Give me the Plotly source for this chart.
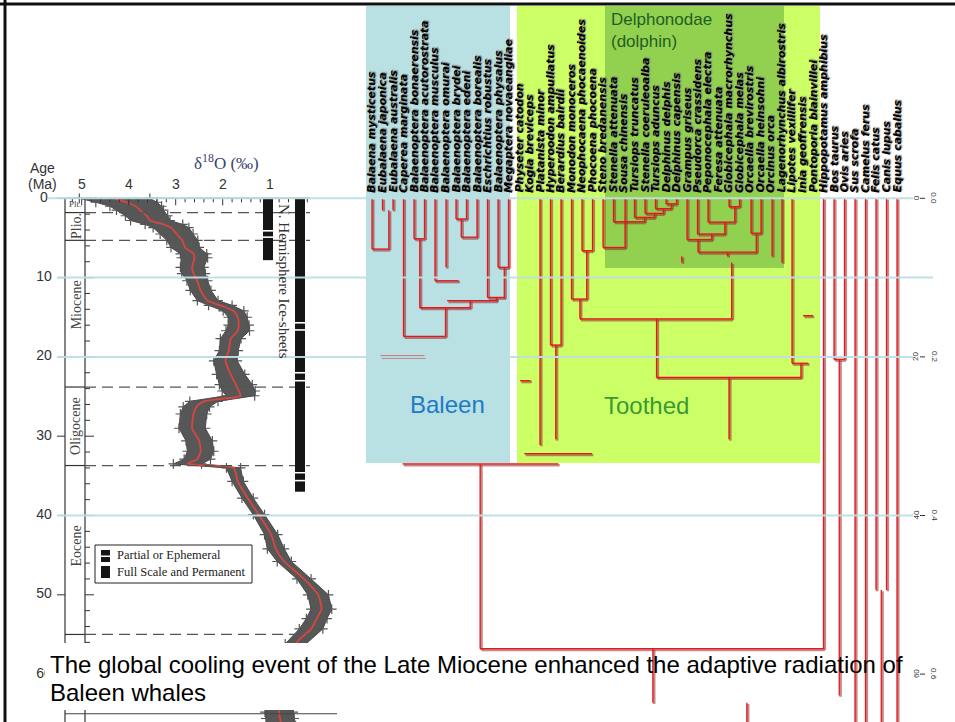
import numpy as np
import plotly.graph_objects as go

W, H = 955, 722

# ---------------- data ----------------
species = [
    "Balaena mysticetus", "Eubalaena japonica", "Eubalaena australis", "Caperea marginata",
    "Balaenoptera bonaerensis", "Balaenoptera acutorostrata", "Balaenoptera musculus",
    "Balaenoptera omurai", "Balaenoptera brydei", "Balaenoptera edeni", "Balaenoptera borealis",
    "Eschrichtius robustus", "Balaenoptera physalus", "Megaptera novaeangliae",
    "Physeter catodon", "Kogia breviceps", "Platanista minor", "Hyperoodon ampullatus",
    "Berardius bairdii", "Monodon monoceros", "Neophocaena phocaenoides", "Phocoena phocoena",
    "Steno bredanensis", "Stenella attenuata", "Sousa chinensis", "Tursiops truncatus",
    "Stenella coeruleoalba", "Tursiops aduncus", "Delphinus delphis", "Delphinus capensis",
    "Grampus griseus", "Pseudorca crassidens", "Peponocephala electra", "Feresa attenuata",
    "Globicephala macrorhynchus", "Globicephala melas", "Orcaella brevirostris",
    "Orcaella heinsohni", "Orcinus orca", "Lagenorhynchus albirostris", "Lipotes vexillifer",
    "Inia geoffrensis", "Pontoporia blainvillei", "Hippopotamus amphibius", "Bos taurus",
    "Ovis aries", "Sus scrofa", "Camelus ferus", "Felis catus", "Canis lupus", "Equus caballus",
]

# benthic d18O stack: age (Ma), smoothed value (per mil), half-width of the scatter
d18o_age = [0.0, 0.5, 1.0, 1.5, 2.2, 2.8, 3.3, 3.7, 4.5, 5.3, 6.2, 7.0, 7.5, 8.7, 9.5,
            10.4, 11.6, 12.9, 13.5, 14.2, 15.0, 16.0, 16.7, 17.7, 19.2, 20.5, 22.2, 23.5,
            24.3, 24.9, 25.6, 26.3, 27.2, 29.0, 30.6, 31.9, 32.9, 33.5, 34.0, 35.7, 37.8,
            39.9, 42.4, 44.2, 45.8, 48.0, 50.0, 51.8, 53.0, 54.3, 56.2, 64.8, 65.6, 66.5]
d18o_val = [4.30, 4.05, 3.85, 3.76, 3.62, 3.54, 3.25, 3.10, 2.98, 2.86, 2.80, 2.62, 2.60,
            2.65, 2.62, 2.54, 2.47, 2.32, 2.05, 1.77, 1.68, 1.66, 1.68, 1.83, 1.87, 1.94,
            1.83, 1.72, 1.66, 1.62, 2.40, 2.56, 2.62, 2.65, 2.50, 2.47, 2.54, 2.75, 1.77,
            1.68, 1.47, 1.23, 0.97, 0.87, 0.69, 0.27, -0.03, -0.10, 0.00, 0.12, 0.45,
            0.80, 0.78, 0.75]
d18o_half = [0.75, 0.65, 0.55, 0.50, 0.45, 0.42, 0.40, 0.38, 0.35, 0.33, 0.30, 0.28, 0.28,
             0.25, 0.25, 0.22, 0.22, 0.22, 0.25, 0.22, 0.20, 0.22, 0.25, 0.22, 0.20, 0.25,
             0.30, 0.35, 0.35, 0.30, 0.30, 0.28, 0.28, 0.28, 0.28, 0.28, 0.28, 0.30, 0.15,
             0.12, 0.12, 0.12, 0.14, 0.18, 0.15, 0.15, 0.22, 0.22, 0.22, 0.25, 0.22,
             0.30, 0.30, 0.30]

epoch_bounds = [1.8, 5.3, 23.8, 33.7, 55.0]
epoch_names = ["Plio.", "Miocene", "Oligocene", "Eocene"]
epoch_label_age = [3.5, 13.5, 28.7, 43.9]

# ice-sheet extent (Ma), split where the bars show gaps
ice_partial = [(0.0, 4.0), (4.2, 4.8), (5.0, 7.8)]
ice_full = [(0.0, 15.6), (15.8, 16.5), (16.7, 21.9), (22.1, 22.9),
            (23.1, 34.5), (34.7, 35.5), (35.7, 37.0)]

# tree branches, in tip-index units and Ma
# vertical: (tip position, age top, age bottom)
tree_v = [
    (0, 0, 6.4), (1, 0, 1.5), (2, 0, 1.5), (1.6, 1.5, 6.4),
    (3, 0, 17.4), (7.0, 13.8, 17.4),
    (4, 0, 5.1), (5, 0, 5.1), (4.55, 5.1, 13.8), (9.35, 12.9, 13.8),
    (6, 0, 10.4), (7.05, 0, 8.7),
    (8, 0, 2.6), (9, 0, 2.6), (8.5, 2.6, 4.9), (10, 0, 4.9),
    (11, 0, 12.5), (12, 0, 8.7), (13, 0, 8.7), (12.6, 8.7, 12.5), (11.85, 12.5, 12.9),
    (16, 0, 31.1), (17, 0, 18.5), (18, 0, 18.5), (17.5, 18.5, 30.4),
    (19, 0, 12.7), (20, 0, 6.6), (21, 0, 6.6), (20.45, 6.6, 12.7), (19.8, 12.7, 15.2),
    (34.25, 8.1, 15.2), (27.1, 15.2, 22.6), (40.85, 20.8, 22.6), (40, 0, 20.8),
    (34.0, 22.6, 30.4),
    (28, 0, 0.7), (29, 0, 0.7), (28.5, 0.7, 1.3), (27, 0, 1.3), (27.75, 1.3, 1.9),
    (26, 0, 1.9), (26.9, 1.9, 2.4), (25, 0, 2.4), (25.95, 2.4, 2.95), (23, 0, 2.95),
    (24.1, 0, 6.2), (22, 0, 6.2),
    (34, 0, 1.05), (35, 0, 1.05), (34.55, 1.05, 3.0), (32, 0, 3.0), (33.6, 3.0, 4.5),
    (31, 0, 4.5), (32.35, 4.5, 5.2), (30, 0, 5.2), (31.05, 5.2, 6.8), (36.1, 0, 4.4),
    (37.05, 0, 4.4), (36.6, 4.4, 6.8), (33.85, 6.8, 7.3), (29.5, 7.3, 8.1),
    (38.1, 0, 7.3), (39.05, 0, 8.1),
    (10.3, 33.5, 56.8), (26.75, 56.8, 63.6), (35.7, 63.6, 70), (43, 0, 56.8),
    (44, 0, 20.3), (45, 0, 20.3), (44.5, 20.3, 62.7), (46, 0, 70), (47, 0, 70),
    (48, 0, 49.4), (49, 0, 49.4), (48.5, 49.4, 70), (50, 0, 70),
]
# horizontal: (age, tip from, tip to)
tree_h = [
    (6.4, 0, 1.6), (17.4, 3, 7.0), (5.1, 4, 5), (13.8, 4.55, 9.35), (12.9, 7.15, 11.9),
    (10.4, 6, 8.25), (2.6, 8, 9), (4.9, 8.5, 10), (12.5, 11, 12.65), (8.7, 12, 13),
    (19.9, 0.8, 5.0),
    (18.5, 17, 18), (32.2, 14.5, 20.95), (23.0, 14.1, 15.1), (6.6, 20, 21),
    (12.7, 19, 20.45), (15.2, 19.8, 34.25), (22.6, 27.1, 40.85), (20.8, 40, 41.55),
    (14.8, 41.05, 42.0),
    (0.7, 28, 29), (1.3, 27, 28.5), (1.9, 26, 27.75), (2.4, 25, 26.9), (2.95, 23, 25.95),
    (6.2, 22, 24.1),
    (1.05, 34, 35), (3.0, 32, 34.55), (4.5, 31, 33.6), (5.2, 30, 32.35),
    (4.4, 36.1, 37.05), (6.8, 31.05, 36.6),
    (33.5, 2.9, 17.75), (56.8, 10.3, 43),
    (20.3, 44, 45),
]

age_grid = [0, 10, 20, 40]
age_ticks_left = [0, 10, 20, 30, 40, 50, 60]
age_ticks_right = [0, 20, 40, 60]
right_tick_text = ["0.0", "0.2", "0.4", "0.6"]
d18o_ticks = [5, 4, 3, 2, 1]

# ---------------- scales (pixel geometry of the layout) ----------------
AGE_Y0, AGE_K = 198.3, 7.93          # px at age 0, px per Ma
D_X5, D_K = 81.7, 47.0               # px at d18O = 5, px per permil (reversed)
TIP_X0, TIP_K = 372.0, 10.5          # px of first tip, px per tip

age_range = [(H - AGE_Y0) / AGE_K, -AGE_Y0 / AGE_K]
d_range = [5 + D_X5 / D_K, 5 - (W - D_X5) / D_K]
tip_range = [-TIP_X0 / TIP_K, (W - TIP_X0) / TIP_K]


def fx(px):
    return px / W


def fy(py):
    return 1 - py / H


def age_of(py):
    return (py - AGE_Y0) / AGE_K


def d_of(px):
    return 5 - (px - D_X5) / D_K


SERIF = "Liberation Serif, Times New Roman, serif"
SANS = "Liberation Sans, Arial, sans-serif"

fig = go.Figure()
shapes = []
ann = []


def text(t, x, y, xref="paper", yref="paper", xanchor="center", yanchor="middle", **kw):
    d = dict(text=t, x=x, y=y, xref=xref, yref=yref, xanchor=xanchor, yanchor=yanchor,
             showarrow=False)
    d.update(kw)
    ann.append(d)


# ---------------- background panels ----------------
shapes += [
    dict(type="rect", xref="paper", yref="paper", x0=fx(366), x1=fx(510), y0=fy(6), y1=fy(463),
         fillcolor="#B9E0E3", line_width=0, layer="below"),
    dict(type="rect", xref="paper", yref="paper", x0=fx(517), x1=fx(820), y0=fy(6), y1=fy(463),
         fillcolor="#CCFF66", line_width=0, layer="below"),
    dict(type="rect", xref="paper", yref="paper", x0=fx(605), x1=fx(784), y0=fy(6), y1=fy(268),
         fillcolor="#92D050", line_width=0, layer="below"),
]

# ---------------- d18O panel ----------------
age = np.array(d18o_age)
val = np.array(d18o_val)
half = np.array(d18o_half)
band_x = np.concatenate([val - half, (val + half)[::-1]])
band_y = np.concatenate([age, age[::-1]])
fig.add_trace(go.Scatter(x=band_x, y=band_y, xaxis="x", yaxis="y", mode="lines",
                         fill="toself", fillcolor="#575757", line=dict(color="#4a4a4a", width=1),
                         hoverinfo="skip", showlegend=False))
for sgn in (-1, 1):
    fig.add_trace(go.Scatter(x=val + sgn * half, y=age, xaxis="x", yaxis="y", mode="markers",
                             marker=dict(symbol="cross-thin", size=7,
                                         line=dict(color="#555555", width=1.2)),
                             hoverinfo="skip", showlegend=False))
fig.add_trace(go.Scatter(x=val, y=age, xaxis="x", yaxis="y", mode="lines",
                         line=dict(color="#D9463E", width=1.8, shape="spline", smoothing=0.6),
                         hoverinfo="skip", showlegend=False))

# age labels of the d18O panel (drawn as a trace so the caption box can cover them)
fig.add_trace(go.Scatter(x=[d_of(44)] * len(age_ticks_left), y=age_ticks_left,
                         xaxis="x", yaxis="y", mode="text",
                         text=[str(a) for a in age_ticks_left], textposition="middle center",
                         textfont=dict(family=SANS, size=14, color="#333333"),
                         hoverinfo="skip", showlegend=False))

# epoch column and axis frame of the d18O panel
for xp in (65, 85):
    shapes.append(dict(type="line", xref="paper", yref="y", x0=fx(xp), x1=fx(xp),
                       y0=0, y1=age_range[0], line=dict(color="#333333", width=1.2)))
shapes.append(dict(type="line", xref="paper", yref="y", x0=fx(65), x1=fx(310), y0=0, y1=0,
                   line=dict(color="#333333", width=1.2)))
for b in epoch_bounds:
    shapes.append(dict(type="line", xref="paper", yref="y", x0=fx(65), x1=fx(85), y0=b, y1=b,
                       line=dict(color="#333333", width=1.2)))
    shapes.append(dict(type="line", xref="paper", yref="y", x0=fx(85), x1=fx(310), y0=b, y1=b,
                       line=dict(color="#555555", width=1.2, dash="11px,6px")))
shapes.append(dict(type="line", xref="paper", yref="y", x0=fx(65), x1=fx(337), y0=65, y1=65,
                   line=dict(color="#444444", width=1.2)))
for a in np.arange(0, 58, 2):
    major = a % 10 == 0
    shapes.append(dict(type="line", xref="paper", yref="y", x0=fx(85),
                       x1=fx(85 + (9 if major else 5)), y0=a, y1=a,
                       line=dict(color="#333333", width=1)))
    if major:
        shapes.append(dict(type="line", xref="paper", yref="y", x0=fx(57), x1=fx(65),
                           y0=a, y1=a, line=dict(color="#333333", width=1)))
for v in np.arange(5.2, 0.1, -0.2):
    major = abs(v - round(v)) < 1e-6
    shapes.append(dict(type="line", xref="x", yref="y", x0=v, x1=v, y0=0,
                       y1=age_of(AGE_Y0 + (7 if major else 4)),
                       line=dict(color="#333333", width=1)))

# ice-sheet bars
for a0, a1 in ice_partial:
    shapes.append(dict(type="rect", xref="paper", yref="y", x0=fx(263), x1=fx(273),
                       y0=a0, y1=a1, fillcolor="#151515", line_width=0))
for a0, a1 in ice_full:
    shapes.append(dict(type="rect", xref="paper", yref="y", x0=fx(295), x1=fx(305),
                       y0=a0, y1=a1, fillcolor="#151515", line_width=0))

# legend box
shapes += [
    dict(type="rect", xref="paper", yref="paper", x0=fx(95), x1=fx(252), y0=fy(545), y1=fy(583),
         fillcolor="white", line=dict(color="#222222", width=1)),
    dict(type="rect", xref="paper", yref="paper", x0=fx(101), x1=fx(110), y0=fy(550), y1=fy(555.5),
         fillcolor="#151515", line_width=0),
    dict(type="rect", xref="paper", yref="paper", x0=fx(101), x1=fx(110), y0=fy(557), y1=fy(562),
         fillcolor="#151515", line_width=0),
    dict(type="rect", xref="paper", yref="paper", x0=fx(101), x1=fx(110), y0=fy(566), y1=fy(578),
         fillcolor="#151515", line_width=0),
]
text("Partial or Ephemeral", fx(115), fy(555), xanchor="left",
     font=dict(family=SERIF, size=12.5, color="#222222"))
text("Full Scale and Permanent", fx(115), fy(572), xanchor="left",
     font=dict(family=SERIF, size=12.5, color="#222222"))

# d18O panel texts
text("δ<sup>18</sup>O (‰)", fx(226), fy(162), font=dict(family=SERIF, size=17, color="#3a3f6e"))
text("Age", fx(42), fy(168), font=dict(family=SANS, size=14, color="#333333"))
text("(Ma)", fx(42), fy(184), font=dict(family=SANS, size=14, color="#333333"))
text("N. Hemisphere Ice-sheets", fx(284), fy(281), textangle=90,
     font=dict(family=SERIF, size=15, color="#333333"))
text("Plt.", fx(75), 0.75, yref="y", font=dict(family=SERIF, size=9, color="#444444"))
for v in d18o_ticks:
    text(str(v), v, fy(184), xref="x", font=dict(family=SANS, size=14, color="#333333"))
for name, a in zip(epoch_names, epoch_label_age):
    text(name, fx(76), a, yref="y", textangle=-90,
         font=dict(family=SERIF, size=14, color="#444444"))

# ---------------- tree ----------------
def segments(dx=0.0, dy=0.0):
    xs, ys = [], []
    for t, a0, a1 in tree_v:
        xs += [t + dx, t + dx, None]
        ys += [a0 + dy, a1 + dy, None]
    for a, t0, t1 in tree_h:
        xs += [t0 + dx, t1 + dx, None]
        ys += [a + dy, a + dy, None]
    return xs, ys


sx, sy = segments(1.3 / TIP_K, 1.3 / AGE_K)
fig.add_trace(go.Scatter(x=sx, y=sy, xaxis="x2", yaxis="y", mode="lines",
                         line=dict(color="rgba(150,40,40,0.55)", width=2.6),
                         hoverinfo="skip", showlegend=False))
rx, ry = segments()
fig.add_trace(go.Scatter(x=rx, y=ry, xaxis="x2", yaxis="y", mode="lines",
                         line=dict(color="#E8161C", width=1.3),
                         hoverinfo="skip", showlegend=False))

for i, name in enumerate(species):
    text(name, i, fy(195), xref="x2", yanchor="bottom", textangle=-90,
         font=dict(family="DejaVu Sans", size=11, color="black",
                   weight="bold", style="italic", shadow="1px 1px 1px #7a7a7a"))

text("Delphonodae<br>(dolphin)", fx(609), fy(8), xanchor="left", yanchor="top", align="left",
     font=dict(family=SANS, size=17, color="#1F5F22"))
text("Baleen", fx(447), fy(404), font=dict(family=SANS, size=24, color="#1B7BC6"))
text("Toothed", fx(646), fy(405), font=dict(family=SANS, size=24, color="#3A9A32"))

# right-hand age scale
for a, lab in zip(age_ticks_right, right_tick_text):
    text(str(a), fx(916), a, yref="y", textangle=-90,
         font=dict(family=SANS, size=8, color="#333333"))
    text(lab, fx(934), a, yref="y", textangle=90,
         font=dict(family=SANS, size=8, color="#333333"))
    shapes.append(dict(type="line", xref="paper", yref="y", x0=fx(920), x1=fx(925), y0=a, y1=a,
                       line=dict(color="#333333", width=1), layer="above"))

# light grid lines across both panels
for a in age_grid:
    x0 = 48 if a == 0 else 57
    x1 = 933 if a == 10 else 913
    shapes.append(dict(type="line", xref="paper", yref="y", x0=fx(x0), x1=fx(x1), y0=a, y1=a,
                       line=dict(color="rgba(190,222,228,0.95)", width=2), layer="above"))

# caption box over the lower part of the d18O panel
shapes.append(dict(type="rect", xref="paper", yref="paper", x0=fx(45), x1=fx(340),
                   y0=fy(643), y1=fy(710), fillcolor="white", line_width=0, layer="above"))
text("The global cooling event of the Late Miocene enhanced the adaptive radiation of",
     fx(48), fy(664), xanchor="left", font=dict(family=SANS, size=24, color="black"))
text("Baleen whales", fx(48), fy(692), xanchor="left",
     font=dict(family=SANS, size=24, color="black"))

# outer frame (top and left)
shapes += [
    dict(type="line", xref="paper", yref="paper", x0=0, x1=1, y0=fy(4), y1=fy(4),
         line=dict(color="#111111", width=3), layer="above"),
    dict(type="line", xref="paper", yref="paper", x0=fx(5), x1=fx(5), y0=0, y1=1,
         line=dict(color="#111111", width=3), layer="above"),
]

fig.update_layout(
    width=W, height=H, margin=dict(l=0, r=0, t=0, b=0),
    paper_bgcolor="white", plot_bgcolor="white", showlegend=False,
    xaxis=dict(range=d_range, visible=False, fixedrange=True),
    xaxis2=dict(range=tip_range, visible=False, overlaying="x", fixedrange=True),
    yaxis=dict(range=age_range, visible=False, fixedrange=True),
    shapes=shapes, annotations=ann,
)

fig.write_html("out.html")
